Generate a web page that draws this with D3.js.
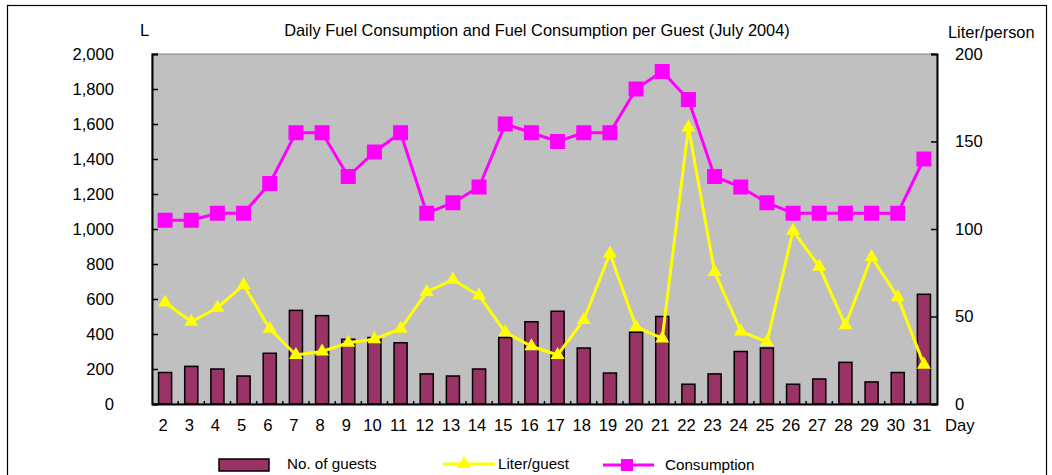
<!DOCTYPE html>
<html>
<head>
<meta charset="utf-8">
<script src="https://cdn.jsdelivr.net/npm/d3@7"></script>
<style>
  body { margin: 0; background: #fff; }
  svg { display: block; font-family: "Liberation Sans", Arial, sans-serif; }
</style>
</head>
<body>
<div id="chart"></div>
<script>
// days of July 2004
const days = ["2","3","4","5","6","7","8","9","10","11","12","13","14","15","16",
              "17","18","19","20","21","22","23","24","25","26","27","28","29","30","31"];
// No. of guests (left axis)
const guests = [180,215,200,160,290,535,505,370,380,350,172,160,200,380,470,
                530,320,177,410,500,113,172,300,320,113,143,238,126,180,627];
// Liter/guest (right axis)
const literPerGuest = [58,47,55,68,43,28,30,35,37,43,64,71,62,41,33,
                       28,48,86,44,37.5,158,75.5,41.5,35.5,99,78.5,45,84,61,22.5];
// Consumption in liters (left axis)
const consumption = [1050,1050,1090,1090,1260,1550,1550,1300,1440,1550,1090,1150,1240,1600,1550,
                     1500,1550,1550,1800,1900,1740,1300,1240,1150,1090,1090,1090,1090,1090,1400];
const leftTicks = [0,200,400,600,800,1000,1200,1400,1600,1800,2000];
const rightTicks = [0,50,100,150,200];

const W = 1052, H = 475;
const plotL = 152, plotR = 937, plotT = 54, plotB = 404;

const svg = d3.select("#chart").append("svg")
    .attr("width", W)
    .attr("height", H);

// outer frame
svg.append("rect")
    .attr("x", 7.5).attr("y", 5.5)
    .attr("width", 1039).attr("height", 500)
    .attr("fill", "#fff")
    .attr("stroke", "#000")
    .attr("stroke-width", 1.2);

// scales
let x = d3.scaleBand().domain(days).range([plotL, plotR]).paddingInner(0.5).paddingOuter(0.25);
let xStep = d3.scaleBand().domain(days).range([plotL, plotR]);
let yL = d3.scaleLinear().domain([0, 2000]).range([plotB, plotT]);
let yR = d3.scaleLinear().domain([0, 200]).range([plotB, plotT]);

// plot area
svg.append("rect")
    .attr("x", plotL).attr("y", plotT)
    .attr("width", plotR - plotL).attr("height", plotB - plotT)
    .attr("fill", "#c0c0c0")
    .attr("stroke", "#808080")
    .attr("stroke-width", 1);

// bars
svg.append("g").selectAll("rect")
    .data(guests)
    .join("rect")
    .attr("x", (d, i) => x(days[i]))
    .attr("width", x.bandwidth())
    .attr("y", d => yL(d))
    .attr("height", d => yL(0) - yL(d))
    .attr("fill", "#993366")
    .attr("stroke", "#000")
    .attr("stroke-width", 1.5);

// axes
let fmt = d3.format(",");
let gL = svg.append("g")
    .attr("transform", `translate(${plotL},0)`)
    .call(d3.axisLeft(yL).tickValues(leftTicks).tickFormat(fmt).tickSize(-6).tickPadding(38));
let gR = svg.append("g")
    .attr("transform", `translate(${plotR},0)`)
    .call(d3.axisRight(yR).tickValues(rightTicks).tickSize(-6).tickPadding(18));
let gB = svg.append("g")
    .attr("transform", `translate(-2,${plotB})`)
    .call(d3.axisBottom(xStep).tickSize(0).tickPadding(15));

[gL, gR, gB].forEach(g => {
    g.selectAll("text").attr("font-size", 16.6).attr("fill", "#000")
        .attr("font-family", "'Liberation Sans', Arial, sans-serif");
    g.selectAll("line").attr("stroke", "#000").attr("stroke-width", 1.5);
    g.select(".domain").attr("stroke", "#000").attr("stroke-width", 2);
});
gB.select(".domain").attr("transform", "translate(2,0)");
gL.selectAll("text").attr("text-anchor", "end");
gR.selectAll("text").attr("text-anchor", "start");

// small category ticks on the x axis
svg.append("g").selectAll("line")
    .data(days.slice(1))
    .join("line")
    .attr("x1", d => xStep(d)).attr("x2", d => xStep(d))
    .attr("y1", plotB).attr("y2", plotB - 3)
    .attr("stroke", "#000")
    .attr("stroke-width", 1.5);

// liter/guest line
let cx = (d, i) => x(days[i]) + x.bandwidth() / 2;
svg.append("path")
    .datum(literPerGuest)
    .attr("fill", "none")
    .attr("stroke", "#ffff00")
    .attr("stroke-width", 3)
    .attr("d", d3.line().x(cx).y(d => yR(d)));

let tri = d3.symbol(d3.symbolTriangle).size(85);
svg.append("g").selectAll("path")
    .data(literPerGuest)
    .join("path")
    .attr("transform", (d, i) => `translate(${cx(d, i)},${yR(d)})`)
    .attr("d", tri)
    .attr("fill", "#ffff00");

// consumption line
svg.append("path")
    .datum(consumption)
    .attr("fill", "none")
    .attr("stroke", "#ff00ff")
    .attr("stroke-width", 3)
    .attr("d", d3.line().x(cx).y(d => yL(d)));

svg.append("g").selectAll("rect")
    .data(consumption)
    .join("rect")
    .attr("x", (d, i) => cx(d, i) - 7.5)
    .attr("y", d => yL(d) - 7.5)
    .attr("width", 15)
    .attr("height", 15)
    .attr("fill", "#ff00ff");

// titles
svg.append("text")
    .attr("x", 537).attr("y", 36)
    .attr("text-anchor", "middle")
    .attr("font-size", 16.4)
    .text("Daily Fuel Consumption and Fuel Consumption per Guest (July 2004)");
svg.append("text")
    .attr("x", 140).attr("y", 36)
    .attr("font-size", 16.6)
    .text("L");
svg.append("text")
    .attr("x", 948).attr("y", 38)
    .attr("font-size", 16.4)
    .text("Liter/person");
svg.append("text")
    .attr("x", 945).attr("y", 431)
    .attr("font-size", 16.6)
    .text("Day");

// legend
let lg = svg.append("g").attr("font-size", 15.2);
lg.append("rect")
    .attr("x", 219).attr("y", 459)
    .attr("width", 50).attr("height", 12)
    .attr("fill", "#993366")
    .attr("stroke", "#000")
    .attr("stroke-width", 1.5);
lg.append("text").attr("x", 287).attr("y", 469).text("No. of guests");

lg.append("line")
    .attr("x1", 443).attr("x2", 495)
    .attr("y1", 464).attr("y2", 464)
    .attr("stroke", "#ffff00").attr("stroke-width", 3);
lg.append("path")
    .attr("transform", "translate(464,464)")
    .attr("d", tri)
    .attr("fill", "#ffff00");
lg.append("text").attr("x", 498).attr("y", 469).text("Liter/guest");

lg.append("line")
    .attr("x1", 603).attr("x2", 654)
    .attr("y1", 465).attr("y2", 465)
    .attr("stroke", "#ff00ff").attr("stroke-width", 3);
lg.append("rect")
    .attr("x", 621).attr("y", 459)
    .attr("width", 12).attr("height", 12)
    .attr("fill", "#ff00ff");
lg.append("text").attr("x", 665).attr("y", 470).text("Consumption");
</script>
</body>
</html>
